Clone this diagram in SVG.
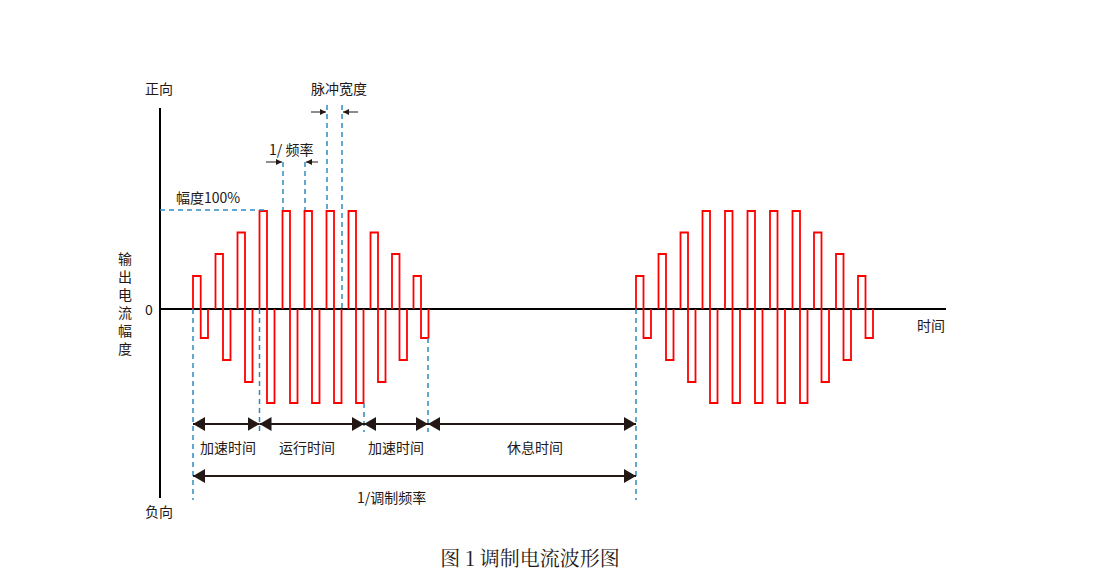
<svg xmlns="http://www.w3.org/2000/svg" width="1105" height="577" viewBox="0 0 1105 577">
<style>
.t{font-family:"Noto Sans CJK SC","Noto Sans",sans-serif;font-size:14px;fill:#231815}
.d{stroke:#2e8bc0;stroke-width:1.5;stroke-dasharray:5,4;fill:none}
.w{stroke:#ff0000;stroke-width:1.8;fill:none}
.a{stroke:#000;stroke-width:2;fill:none}
.ar{stroke:#231815;stroke-width:2;fill:none;marker-start:url(#h);marker-end:url(#h)}
.sm{stroke:#231815;stroke-width:1;fill:none;marker-end:url(#s)}
</style>
<defs>
<marker id="h" viewBox="0 0 12 14" refX="12" refY="7" markerWidth="12" markerHeight="14" markerUnits="userSpaceOnUse" orient="auto-start-reverse"><path d="M0,0L12,7L0,14z" fill="#231815"/></marker>
<marker id="s" viewBox="0 0 6 6" refX="6" refY="3" markerWidth="6" markerHeight="6" markerUnits="userSpaceOnUse" orient="auto"><path d="M0,0L6,3L0,6z" fill="#231815"/></marker>
</defs>
<rect width="1105" height="577" fill="#fff"/>
<g id="axes">
<line class="a" x1="160" y1="108" x2="160" y2="498"/>
<line class="a" x1="160" y1="309" x2="946" y2="309"/>
</g>
<g id="waveform1">
<path class="w" d="M193,309V276H200.7V338H208V309 M215.5,309V254H223V360H230.5V309 M237.5,309V232.5H245V382H252.5V309 M259.5,309V211H267V403H274.5V309 M282.5,309V211H290V403H297.5V309 M304.5,309V211H312V403H319.5V309 M326.5,309V211H334V403H341.5V309 M348.5,309V211H356V403H363.5V309 M370.5,309V232.5H378V382H385.5V309 M392,309V254H399.5V360H407V309 M413.5,309V276H421V338H428.5V309"/>
</g>
<g id="waveform2">
<path class="w" d="M636,309V276H643.5V338H651V309 M658.5,309V254H666V360H673.5V309 M680.5,309V232.5H688V382H695.5V309 M702.5,309V211H710V403H717.5V309 M725,309V211H732.5V403H740V309 M747.5,309V211H755V403H762.5V309 M770,309V211H777.5V403H785V309 M792.5,309V211H800V403H807.5V309 M814,309V232.5H821.5V382H829V309 M836,309V254H843.5V360H851V309 M858,309V276H865.5V338H873V309"/>
</g>
<g id="connectors">
<line class="d" x1="160" y1="210" x2="265" y2="210"/>
<line class="d" x1="283" y1="162" x2="283" y2="210"/>
<line class="d" x1="305" y1="162" x2="305" y2="210"/>
<line class="d" x1="327" y1="105" x2="327" y2="210"/>
<line class="d" x1="342" y1="105" x2="342" y2="309"/>
<line class="d" x1="193" y1="309" x2="193" y2="500"/>
<line class="d" x1="259.5" y1="309" x2="259.5" y2="432"/>
<line class="d" x1="364" y1="403" x2="364" y2="432"/>
<line class="d" x1="428" y1="338" x2="428" y2="432"/>
<line class="d" x1="636" y1="309" x2="636" y2="500"/>
<line class="sm" x1="266" y1="162" x2="282" y2="162"/>
<line class="sm" x1="318" y1="162" x2="306" y2="162"/>
<line class="sm" x1="311" y1="112" x2="326" y2="112"/>
<line class="sm" x1="358" y1="112" x2="343" y2="112"/>
<line class="ar" x1="193" y1="424" x2="259.5" y2="424"/>
<line class="ar" x1="259.5" y1="424" x2="364" y2="424"/>
<line class="ar" x1="364" y1="424" x2="428" y2="424"/>
<line class="ar" x1="428" y1="424" x2="636" y2="424"/>
<line class="ar" x1="193" y1="476" x2="636" y2="476"/>
</g>
<g id="labels">
<text class="t" x="145" y="94">正向</text>
<text class="t" x="145" y="517">负向</text>
<text class="t" x="311" y="94">脉冲宽度</text>
<text class="t" x="269" y="155">1/ 频率</text>
<text class="t" x="176" y="203">幅度100%</text>
<text class="t" x="145" y="315">0</text>
<text class="t" x="917" y="331">时间</text>
<text class="t" x="118" y="264">输</text>
<text class="t" x="118" y="282">出</text>
<text class="t" x="118" y="300">电</text>
<text class="t" x="118" y="318">流</text>
<text class="t" x="118" y="336">幅</text>
<text class="t" x="118" y="354">度</text>
<text class="t" x="200" y="453">加速时间</text>
<text class="t" x="279" y="453">运行时间</text>
<text class="t" x="368" y="453">加速时间</text>
<text class="t" x="507" y="453">休息时间</text>
<text class="t" x="357" y="503">1/调制频率</text>
<text x="530" y="566" text-anchor="middle" style="font-family:'Noto Serif CJK SC','Liberation Serif',serif;font-size:20px;fill:#231815">图 1  调制电流波形图</text>
</g>
</svg>
